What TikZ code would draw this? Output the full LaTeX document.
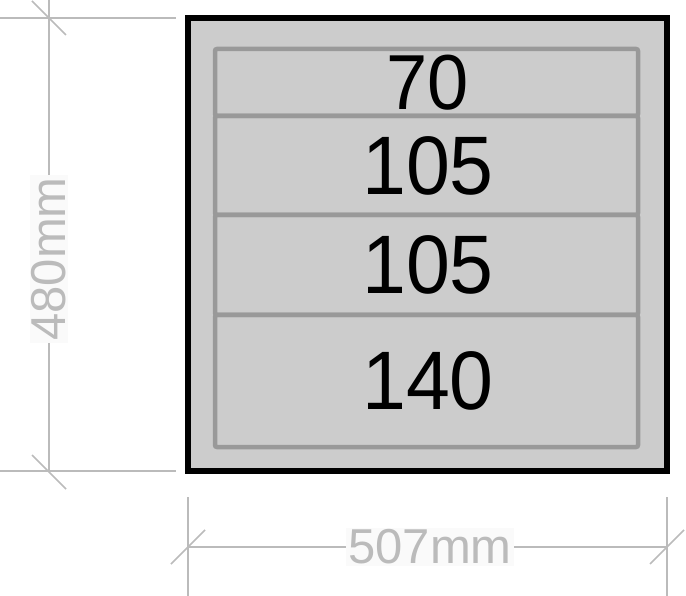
\documentclass[tikz,border=0pt]{standalone}
\usepackage{fontspec}
\setmainfont{Liberation Sans}
\definecolor{cabinetgray}{HTML}{CCCCCC}
\definecolor{drawergray}{HTML}{999999}
\definecolor{dimgray}{HTML}{BBBBBB}
\definecolor{labelbg}{HTML}{FAFAFA}
\begin{document}
\begin{tikzpicture}[x=1pt,y=-1pt]
\tikzset{
  cabinet/.style={draw=black,line width=5.5pt,fill=cabinetgray},
  drawer/.style={draw=drawergray,line width=4.5pt,rounded corners=2pt},
  drawer label/.style={font=\fontsize{84}{84}\selectfont,text=black,inner sep=0pt},
  dim line/.style={draw=dimgray,line width=1.5pt},
  dim label/.style={font=\fontsize{49}{49}\selectfont,text=dimgray,fill=labelbg,inner sep=2pt},
}
\useasboundingbox (0,0) rectangle (686,596);
% cabinet body
\draw[cabinet] (188,18) rectangle (667,471);
% drawers: top/bottom/label/size
\foreach \t/\b/\n/\s in {49/116/70/78, 116/215/105/83, 215/315/105/83, 315/447/140/83}{
    \draw[drawer] (215,\t) rectangle (638,\b);
    \node[drawer label,font=\fontsize{\s}{\s}\selectfont,xscale=0.95] (drawer\n) at (428,{(\t+\b)/2}) {\n};
}
% height dimension
\coordinate (htop) at (49,0);
\coordinate (hbot) at (49,472);
\draw[dim line] (0,18) -- (176,18);
\draw[dim line] (0,471) -- (176,471);
\draw[dim line] (htop) -- (hbot);
\draw[dim line] (32,1) -- (66,35);
\draw[dim line] (32,455) -- (66,489);
\node[dim label,rotate=90] (height) at (49,259) {480mm};
% width dimension
\coordinate (wleft) at (188,547);
\coordinate (wright) at (667,547);
\draw[dim line] (188,497) -- (188,596);
\draw[dim line] (667,497) -- (667,596);
\draw[dim line] (wleft) -- (wright);
\draw[dim line] (171,564) -- (205,530);
\draw[dim line] (650,564) -- (684,530);
\node[dim label] (width) at (430,547) {507mm};
\end{tikzpicture}
\end{document}
